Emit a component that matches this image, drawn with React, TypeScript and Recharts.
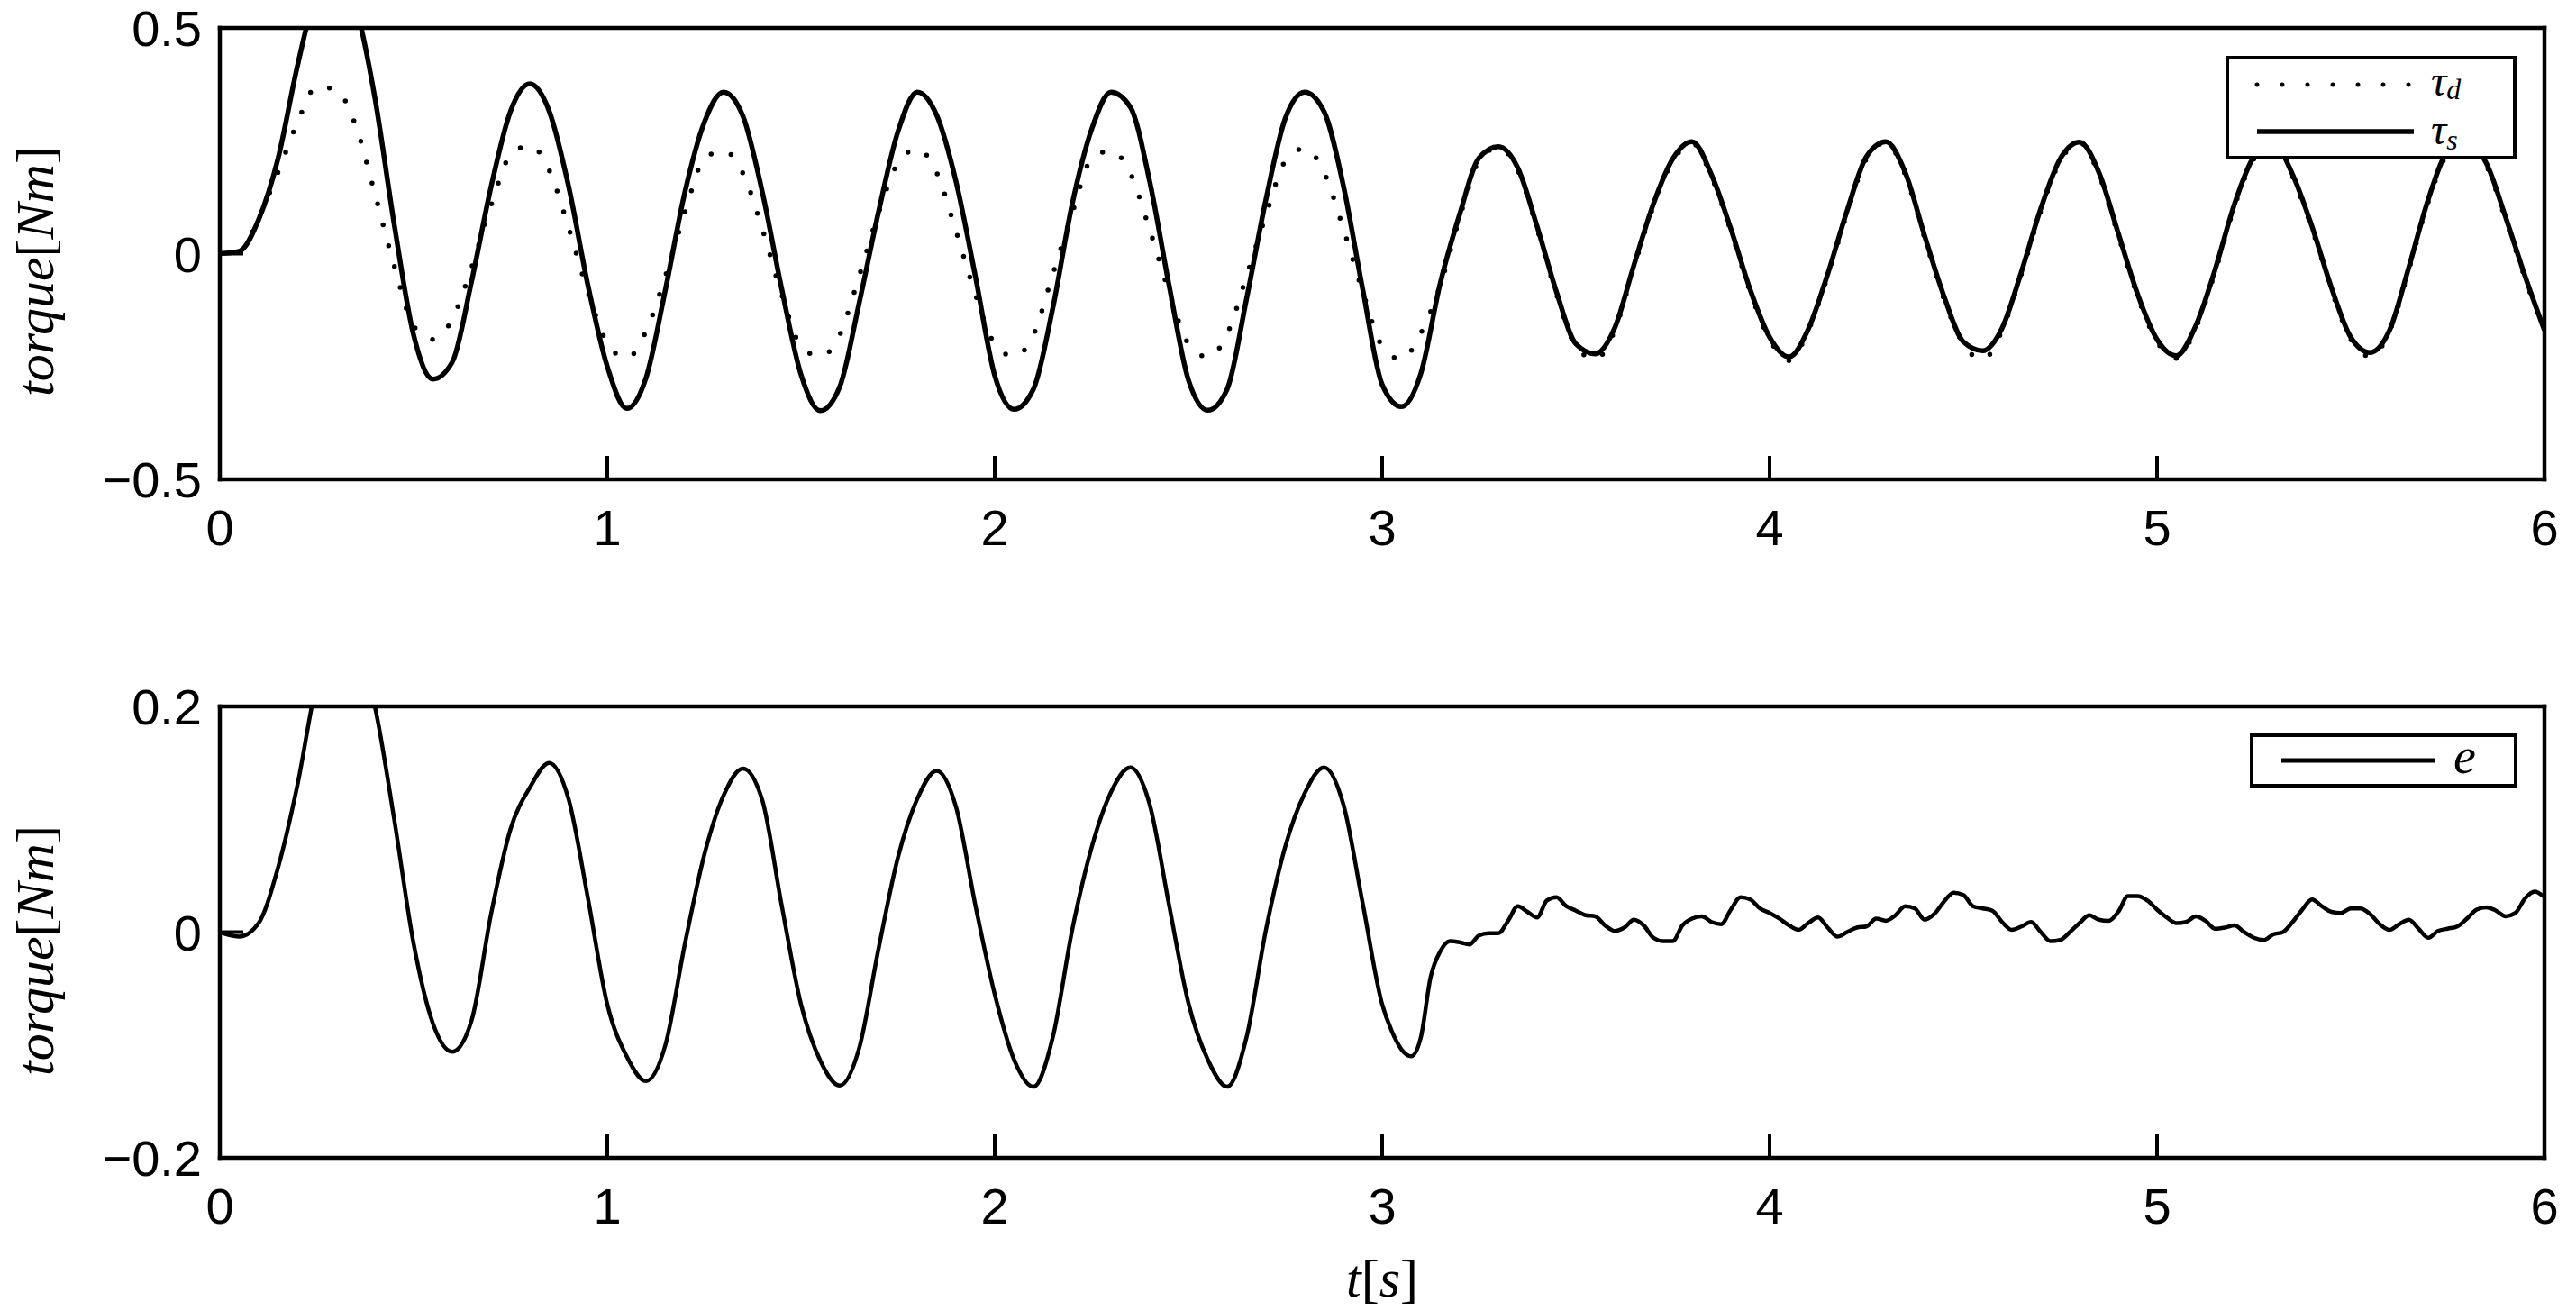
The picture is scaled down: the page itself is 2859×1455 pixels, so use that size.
import React from 'react';
import { LineChart, Line, XAxis, YAxis, Legend } from 'recharts';

// sample times (s)
const T_TOP = Array.from({ length: 121 }, (_, i) => +(i * 0.05).toFixed(3));
const T_BOTTOM = [
  ...Array.from({ length: 61 }, (_, i) => +(i * 0.05).toFixed(3)),
  ...Array.from({ length: 120 }, (_, i) => +(3 + (i + 1) * 0.025).toFixed(3)),
];

// desired torque tau_d (dotted)
const TAU_D = [
  0, 0.005, 0.08, 0.18, 0.29, 0.37, 0.363, 0.285, 0.133, -0.027,
  -0.16, -0.19, -0.145, -0.03, 0.107, 0.218, 0.24, 0.185, 0.058, -0.085,
  -0.198, -0.232, -0.172, -0.05, 0.09, 0.21, 0.228, 0.178, 0.055, -0.09,
  -0.205, -0.228, -0.18, -0.05, 0.09, 0.2, 0.232, 0.18, 0.05, -0.09,
  -0.2, -0.228, -0.18, -0.045, 0.09, 0.21, 0.228, 0.178, 0.053, -0.085,
  -0.2, -0.229, -0.178, -0.05, 0.085, 0.205, 0.233, 0.18, 0.055, -0.085,
  -0.205, -0.234, -0.176, -0.07, 0.08, 0.205, 0.235, 0.185, 0.055, -0.09,
  -0.205, -0.234, -0.17, -0.03, 0.105, 0.205, 0.245, 0.17, 0.05, -0.085,
  -0.19, -0.237, -0.17, -0.05, 0.09, 0.21, 0.246, 0.175, 0.035, -0.1,
  -0.2, -0.235, -0.17, -0.045, 0.095, 0.205, 0.246, 0.175, 0.04, -0.095,
  -0.195, -0.232, -0.165, -0.04, 0.105, 0.21, 0.243, 0.17, 0.055, -0.08,
  -0.19, -0.228, -0.172, -0.035, 0.115, 0.22, 0.243, 0.195, 0.075, -0.055,
  -0.175,
];

// measured torque tau_s (solid)
const TAU_S = [
  0, 0.005, 0.075, 0.21, 0.415, 0.58, 0.63, 0.55, 0.346, 0.065,
  -0.18, -0.278, -0.24, -0.06, 0.148, 0.315, 0.376, 0.316, 0.15, -0.07,
  -0.25, -0.343, -0.275, -0.08, 0.135, 0.29, 0.358, 0.305, 0.137, -0.077,
  -0.268, -0.348, -0.295, -0.11, 0.092, 0.27, 0.358, 0.307, 0.16, -0.05,
  -0.27, -0.345, -0.3, -0.12, 0.11, 0.275, 0.358, 0.325, 0.16, -0.07,
  -0.28, -0.347, -0.3, -0.1, 0.12, 0.3, 0.358, 0.315, 0.15, -0.08,
  -0.29, -0.339, -0.265, -0.065, 0.087, 0.212, 0.237, 0.19, 0.06, -0.085,
  -0.2, -0.222, -0.165, -0.025, 0.11, 0.21, 0.248, 0.175, 0.055, -0.08,
  -0.185, -0.229, -0.167, -0.045, 0.095, 0.215, 0.248, 0.18, 0.04, -0.094,
  -0.195, -0.215, -0.165, -0.04, 0.1, 0.21, 0.247, 0.18, 0.045, -0.09,
  -0.19, -0.226, -0.16, -0.035, 0.11, 0.215, 0.245, 0.175, 0.06, -0.075,
  -0.185, -0.219, -0.17, -0.03, 0.12, 0.225, 0.245, 0.2, 0.08, -0.05,
  -0.17,
];

// error e
const ERR = [
  0, -0.004, 0.008, 0.057, 0.13, 0.22, 0.26, 0.255, 0.2, 0.1,
  -0.01, -0.081, -0.106, -0.078, 0.016, 0.091, 0.128, 0.15, 0.118, 0.03,
  -0.064, -0.11, -0.132, -0.1, -0.011, 0.068, 0.121, 0.145, 0.117, 0.024,
  -0.064, -0.114, -0.136, -0.103, -0.015, 0.066, 0.118, 0.143, 0.111, 0.024,
  -0.055, -0.113, -0.137, -0.093, 0.002, 0.075, 0.124, 0.146, 0.113, 0.024,
  -0.063, -0.113, -0.137, -0.093, 0.002, 0.076, 0.123, 0.146, 0.113, 0.025,
  -0.064,
  // from 3.025 s, every 0.025 s
  -0.088, -0.104, -0.11, -0.093, -0.04, -0.017, -0.008, -0.009,
  -0.011, -0.003, -0.001, -0.001, 0.01, 0.023, 0.018, 0.013,
  0.028, 0.031, 0.023, 0.019, 0.015, 0.014, 0.006, 0.001,
  0.004, 0.011, 0.006, -0.005, -0.008, -0.008, 0.006, 0.012,
  0.014, 0.009, 0.007, 0.02, 0.031, 0.029, 0.021, 0.017,
  0.012, 0.006, 0.002, 0.008, 0.013, 0.004, -0.004, 0,
  0.004, 0.005, 0.012, 0.01, 0.015, 0.023, 0.021, 0.011,
  0.016, 0.027, 0.035, 0.033, 0.023, 0.021, 0.019, 0.009,
  0.002, 0.005, 0.009, 0, -0.008, -0.007, 0, 0.008,
  0.015, 0.011, 0.01, 0.018, 0.032, 0.032, 0.028, 0.02,
  0.013, 0.008, 0.009, 0.014, 0.01, 0.003, 0.004, 0.006,
  0, -0.005, -0.007, -0.002, 0, 0.009, 0.02, 0.029,
  0.023, 0.018, 0.017, 0.021, 0.021, 0.016, 0.007, 0.002,
  0.007, 0.011, 0.003, -0.005, 0.001, 0.003, 0.005, 0.012,
  0.02, 0.022, 0.019, 0.014, 0.017, 0.03, 0.036, 0.031,
];

const X_TICKS = [0, 1, 2, 3, 4, 5, 6];
const Y_TICKS_TOP = [-0.5, 0, 0.5];
const Y_TICKS_BOTTOM = [-0.2, 0, 0.2];

const SANS = '"Liberation Sans", Arial, Helvetica, sans-serif';
const SERIF = '"Liberation Serif", "Times New Roman", serif';
const AXIS = { stroke: '#000', strokeWidth: 4.5, strokeLinecap: 'square' as const };
const TICK = { stroke: '#000', strokeWidth: 4 };

const fmt = (v: number) => (v < 0 ? '\u2212' + Math.abs(v) : String(v));

const XTick = ({ x, y, payload }: any) => (
  <text x={x} y={y} textAnchor="middle" fontFamily={SANS} fontSize={56} fill="#000">
    {fmt(payload.value)}
  </text>
);

const YTick = ({ x, y, payload }: any) => (
  <text x={x} y={y + 20} textAnchor="end" fontFamily={SANS} fontSize={56} fill="#000">
    {fmt(payload.value)}
  </text>
);

const torqueLabel = (cy: number) => () => (
  <text
    transform={`translate(59,${cy}) rotate(-90)`}
    textAnchor="middle"
    fontFamily={SERIF}
    fontStyle="italic"
    fontSize={60}
    fill="#000"
  >
    torque<tspan fontStyle="normal">[</tspan>Nm<tspan fontStyle="normal">]</tspan>
  </text>
);

const timeLabel = () => (
  <text x={1534} y={739} textAnchor="middle" fontFamily={SERIF} fontStyle="italic" fontSize={60} fill="#000">
    t<tspan fontStyle="normal">[</tspan>s<tspan fontStyle="normal">]</tspan>
  </text>
);

const TopLegend = () => (
  <svg width={323} height={115} style={{ display: 'block', overflow: 'visible' }}>
    <rect x={2} y={2} width={319} height={111} fill="#fff" stroke="#000" strokeWidth={4} />
    <line x1={35} x2={209} y1={32} y2={32} stroke="#000" strokeWidth={5} strokeDasharray="0 28" strokeLinecap="round" />
    <text x={228} y={44} fontFamily={SERIF} fontStyle="italic" fontSize={48} fill="#000">
      τ<tspan fontSize={32} dy={4}>d</tspan>
    </text>
    <line x1={35} x2={209} y1={84} y2={84} stroke="#000" strokeWidth={5.5} />
    <text x={228} y={98} fontFamily={SERIF} fontStyle="italic" fontSize={48} fill="#000">
      τ<tspan fontSize={32} dy={6}>s</tspan>
    </text>
  </svg>
);

const BottomLegend = () => (
  <svg width={297} height={60} style={{ display: 'block', overflow: 'visible' }}>
    <rect x={2} y={2} width={293} height={56} fill="#fff" stroke="#000" strokeWidth={4} />
    <line x1={35} x2={206} y1={30} y2={30} stroke="#000" strokeWidth={5} />
    <text x={226} y={44} fontFamily={SERIF} fontStyle="italic" fontSize={56} fill="#000">
      e
    </text>
  </svg>
);

const topData = T_TOP.map((t, i) => ({ t, tauD: TAU_D[i], tauS: TAU_S[i] }));
const bottomData = T_BOTTOM.map((t, i) => ({ t, e: ERR[i] }));

export default function App() {
  return (
    <div style={{ position: 'absolute', left: 0, top: 0, width: 2859, height: 1455, background: '#fff' }}>
      <div style={{ position: 'absolute', left: 0, top: 0 }}>
        <LineChart width={2859} height={640} data={topData} margin={{ top: 30, right: 34, bottom: 8, left: 44 }}>
          <XAxis
            dataKey="t"
            type="number"
            domain={[0, 6]}
            ticks={X_TICKS}
            interval={0}
            allowDataOverflow
            height={100}
            tickSize={-26}
            tickMargin={99}
            tick={<XTick />}
            axisLine={AXIS}
            tickLine={TICK}
          />
          <XAxis
            xAxisId="top"
            orientation="top"
            dataKey="t"
            type="number"
            domain={[0, 6]}
            ticks={X_TICKS}
            interval={0}
            allowDataOverflow
            height={1}
            tickSize={-26}
            tick={false}
            axisLine={AXIS}
            tickLine={TICK}
          />
          <YAxis
            type="number"
            domain={[-0.5, 0.5]}
            ticks={Y_TICKS_TOP}
            interval={0}
            allowDataOverflow
            width={200}
            tickSize={-26}
            tickMargin={46}
            tick={<YTick />}
            axisLine={AXIS}
            tickLine={TICK}
            label={{ content: torqueLabel(301) }}
          />
          <YAxis
            yAxisId="right"
            orientation="right"
            type="number"
            domain={[-0.5, 0.5]}
            ticks={Y_TICKS_TOP}
            interval={0}
            allowDataOverflow
            width={1}
            tickSize={-26}
            tick={false}
            axisLine={AXIS}
            tickLine={TICK}
          />
          <Line
            dataKey="tauD"
            type="monotone"
            stroke="#000"
            strokeWidth={5.5}
            strokeDasharray="0 24"
            strokeLinecap="round"
            dot={false}
            activeDot={false}
            isAnimationActive={false}
          />
          <Line
            dataKey="tauS"
            type="monotone"
            stroke="#000"
            strokeWidth={5.5}
            dot={false}
            activeDot={false}
            isAnimationActive={false}
          />
          <Legend
            layout="horizontal"
            verticalAlign="middle"
            align="center"
            wrapperStyle={{ left: 2470, top: 62, width: 323, height: 115 }}
            content={() => <TopLegend />}
          />
        </LineChart>
      </div>
      <div style={{ position: 'absolute', left: 0, top: 700 }}>
        <LineChart width={2859} height={755} data={bottomData} margin={{ top: 83, right: 34, bottom: 50, left: 44 }}>
          <XAxis
            dataKey="t"
            type="number"
            domain={[0, 6]}
            ticks={X_TICKS}
            interval={0}
            allowDataOverflow
            height={120}
            tickSize={-26}
            tickMargin={99}
            tick={<XTick />}
            axisLine={AXIS}
            tickLine={TICK}
            label={{ content: timeLabel }}
          />
          <XAxis
            xAxisId="top"
            orientation="top"
            dataKey="t"
            type="number"
            domain={[0, 6]}
            ticks={X_TICKS}
            interval={0}
            allowDataOverflow
            height={1}
            tickSize={-26}
            tick={false}
            axisLine={AXIS}
            tickLine={TICK}
          />
          <YAxis
            type="number"
            domain={[-0.2, 0.2]}
            ticks={Y_TICKS_BOTTOM}
            interval={0}
            allowDataOverflow
            width={200}
            tickSize={-26}
            tickMargin={46}
            tick={<YTick />}
            axisLine={AXIS}
            tickLine={TICK}
            label={{ content: torqueLabel(355) }}
          />
          <YAxis
            yAxisId="right"
            orientation="right"
            type="number"
            domain={[-0.2, 0.2]}
            ticks={Y_TICKS_BOTTOM}
            interval={0}
            allowDataOverflow
            width={1}
            tickSize={-26}
            tick={false}
            axisLine={AXIS}
            tickLine={TICK}
          />
          <Line
            dataKey="e"
            type="monotone"
            stroke="#000"
            strokeWidth={4.5}
            dot={false}
            activeDot={false}
            isAnimationActive={false}
          />
          <Legend
            layout="horizontal"
            verticalAlign="middle"
            align="center"
            wrapperStyle={{ left: 2497, top: 114, width: 297, height: 60 }}
            content={() => <BottomLegend />}
          />
        </LineChart>
      </div>
    </div>
  );
}
